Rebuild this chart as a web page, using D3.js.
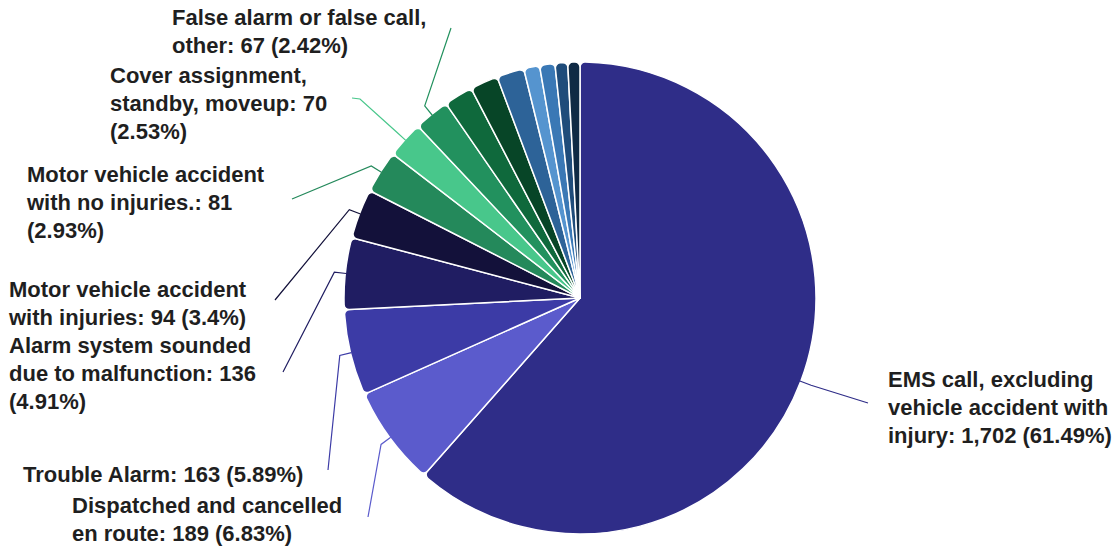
<!DOCTYPE html>
<html>
<head>
<meta charset="utf-8">
<script src="https://cdn.jsdelivr.net/npm/d3@7"></script>
<style>
  html, body { margin: 0; padding: 0; background: #fff; }
  svg { display: block; }
  .label { font-family: "Liberation Sans", Arial, sans-serif; font-weight: bold; font-size: 22px; fill: #1f1f1f; }
</style>
</head>
<body>
<div id="chart"></div>
<script>
// Incident types (clockwise from 12 o'clock)
const categories = [
  "EMS call, excluding vehicle accident with injury",
  "Dispatched and cancelled en route",
  "Trouble Alarm",
  "Alarm system sounded due to malfunction",
  "Motor vehicle accident with injuries",
  "Motor vehicle accident with no injuries.",
  "Cover assignment, standby, moveup",
  "False alarm or false call, other",
  "Smoke detector activation, no fire",
  "Public service assistance, other",
  "Lift assist",
  "Good intent call, other",
  "Unintentional transmission of alarm",
  "Building fire",
  "Medical assist, assist EMS crew"
];
const values = [1702, 189, 163, 136, 94, 81, 70, 67, 55, 53, 52, 30, 29, 24, 23];
const colors = [
  "#2f2d88", "#5b5bcc", "#3c3ba6", "#201d62", "#13113a",
  "#24895b", "#48c78b", "#22915e", "#0f693c", "#074527",
  "#2d6398", "#5594cf", "#3a78b5", "#1f4c7a", "#0f2a44"
];

// word counts per wrapped line, for the labelled slices
const wraps = [[3, 3, 3], [3, 4], [4], [3, 4, 1], [3, 4], [3, 4, 1], [2, 3, 1], [5, 3]];

// label layout: text origin + leader start points
const labelLayout = [
  { x: 888, y: 387, lead: [[868, 403]] },
  { x: 72, y: 513, lead: [[368, 517]] },
  { x: 23, y: 482, lead: [[328, 470]] },
  { x: 9, y: 353, lead: [[283, 372]] },
  { x: 9, y: 297, lead: [[275, 300]] },
  { x: 27, y: 182, lead: [[292, 199]] },
  { x: 110, y: 83, lead: [[352, 98], [360, 99]] },
  { x: 172, y: 25, lead: [[451, 28]] }
];

const width = 1120, height = 548;
const cx = 580, cy = 298, radius = 236;
const lineHeight = 27.8;

const total = d3.sum(values);
const fmt = d3.format(",");

const svg = d3.select("#chart").append("svg")
  .attr("width", width)
  .attr("height", height);

const pie = d3.pie().sort(null).value((d) => d.value);
const data = pie(values.map((v, i) => ({ name: categories[i], value: v, color: colors[i] })));

const arc = d3.arc().innerRadius(0).outerRadius(radius).cornerRadius(5);

const g = svg.append("g").attr("transform", `translate(${cx},${cy})`);

g.selectAll("path")
  .data(data)
  .join("path")
  .attr("d", arc)
  .attr("fill", (d) => d.data.color)
  .attr("stroke", "#fff")
  .attr("stroke-width", 1.5)
  .attr("stroke-linejoin", "round");

// point on a radial line at the middle of a slice
function polar(d, r) {
  const a = (d.startAngle + d.endAngle) / 2;
  return [cx + r * Math.sin(a), cy - r * Math.cos(a)];
}

const line = d3.line();

labelLayout.forEach((lay, i) => {
  const d = data[i];
  const pts = lay.lead.concat([polar(d, radius + 11), polar(d, radius - 1)]);
  svg.append("path")
    .attr("d", line(pts))
    .attr("fill", "none")
    .attr("stroke", d.data.color)
    .attr("stroke-width", 1.2);

  const pct = +(d.data.value / total * 100).toFixed(2);
  const words = `${d.data.name}: ${fmt(d.data.value)} (${pct}%)`.split(" ");
  let k = 0;
  const rows = wraps[i].map((n) => {
    const row = words.slice(k, k + n).join(" ");
    k += n;
    return row;
  });

  const text = svg.append("text")
    .attr("class", "label")
    .attr("x", lay.x)
    .attr("y", lay.y);
  rows.forEach((row, j) => {
    text.append("tspan")
      .attr("x", lay.x)
      .attr("y", lay.y + j * lineHeight)
      .text(row);
  });
});
</script>
</body>
</html>
